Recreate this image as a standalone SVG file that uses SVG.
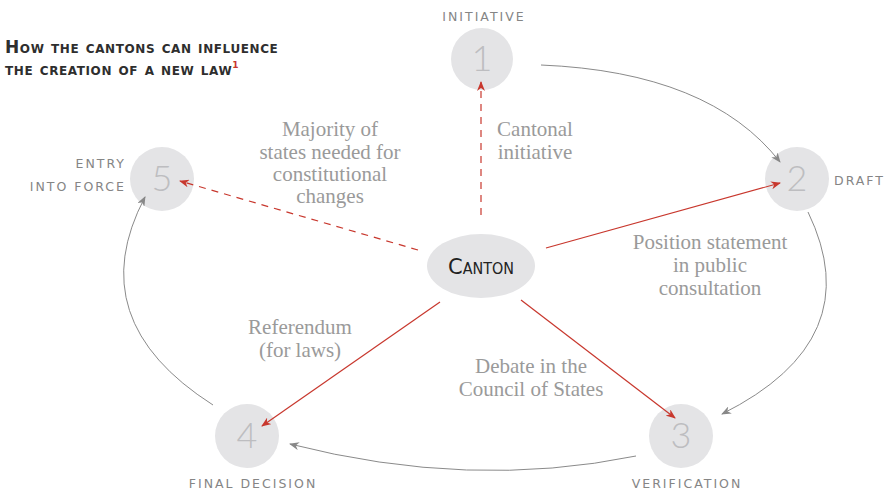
<svg xmlns="http://www.w3.org/2000/svg" width="884" height="490" viewBox="0 0 884 490">
<defs>
<marker id="ag" viewBox="0 0 10 8" refX="9" refY="4" markerWidth="10" markerHeight="8" markerUnits="userSpaceOnUse" orient="auto">
<path d="M0,0 L10,4 L0,8 L3,4 z" fill="#888"/>
</marker>
<marker id="ar" viewBox="0 0 10 8" refX="9" refY="4" markerWidth="10" markerHeight="8" markerUnits="userSpaceOnUse" orient="auto">
<path d="M0,0 L10,4 L0,8 L3,4 z" fill="#c8372d"/>
</marker>
</defs>
<style>
.node{fill:#e4e4e6}
.num{font-family:"Lato","DejaVu Sans",sans-serif;font-weight:300;font-size:36px;fill:#bdbdc0;text-anchor:middle}
.lbl{font-family:"DejaVu Sans","Liberation Sans",sans-serif;font-size:12.5px;letter-spacing:2px;fill:#858585}
.ser{font-family:"Liberation Serif","Times New Roman",serif;font-size:21px;fill:#9a9a9a;text-anchor:middle}
.gray{fill:none;stroke:#8a8a8a;stroke-width:1}
.red{fill:none;stroke:#c8372d;stroke-width:1.2}
.dash{stroke-dasharray:7,6}
.title{font-family:"DejaVu Sans","Liberation Sans",sans-serif;font-size:17px;font-weight:bold;font-variant:small-caps;fill:#2e2e2e;letter-spacing:0.6px}
</style>
<rect width="884" height="490" fill="#ffffff"/>
<g id="title">
<text class="title" x="5" y="53">How the cantons can influence</text>
<text class="title" x="5" y="75">the creation of a new law<tspan font-size="9" fill="#c8372d" dy="-7" letter-spacing="0">1</tspan></text>
</g>
<g id="node1">
<circle class="node" cx="482" cy="59" r="31"/>
<text class="num" x="482" y="71">1</text>
<text class="lbl" x="484" y="21" text-anchor="middle">INITIATIVE</text>
</g>
<g id="node2">
<circle class="node" cx="797" cy="179" r="32"/>
<text class="num" x="797" y="191">2</text>
<text class="lbl" x="834" y="185" font-size="12" letter-spacing="1.2">DRAFT</text>
</g>
<g id="node3">
<circle class="node" cx="681" cy="436" r="32"/>
<text class="num" x="681" y="448">3</text>
<text class="lbl" x="687" y="488" text-anchor="middle">VERIFICATION</text>
</g>
<g id="node4">
<circle class="node" cx="247" cy="436" r="32"/>
<text class="num" x="247" y="448">4</text>
<text class="lbl" x="253" y="488" text-anchor="middle">FINAL DECISION</text>
</g>
<g id="node5">
<circle class="node" cx="162" cy="179" r="32"/>
<text class="num" x="162" y="191">5</text>
<text class="lbl" x="126" y="168" text-anchor="end">ENTRY</text>
<text class="lbl" x="126" y="191" text-anchor="end">INTO FORCE</text>
</g>
<g id="canton">
<ellipse class="node" cx="481" cy="266" rx="54" ry="32"/>
<text x="448" y="274" font-family="DejaVu Sans, Liberation Sans, sans-serif" font-size="22" font-variant="small-caps" fill="#222" textLength="66" lengthAdjust="spacingAndGlyphs">Canton</text>
</g>
<g id="connectors">
<path class="gray" d="M541,65 Q710,72 780,162" marker-end="url(#ag)"/>
<path class="gray" d="M808,212 Q870,340 722,414" marker-end="url(#ag)"/>
<path class="gray" d="M636,456 Q470,490 290,444" marker-end="url(#ag)"/>
<path class="gray" d="M213,405 Q80,320 145,197" marker-end="url(#ag)"/>
<path class="red dash" d="M481,215 L481,82" marker-end="url(#ar)"/>
<path class="red dash" d="M418,250 L180,181" marker-end="url(#ar)"/>
<path class="red" d="M546,248 L780,183" marker-end="url(#ar)"/>
<path class="red" d="M440,302 L262,426" marker-end="url(#ar)"/>
<path class="red" d="M521,300 L675,418" marker-end="url(#ar)"/>
</g>
<g id="labels">
<text class="ser" x="330" y="136">Majority of</text>
<text class="ser" x="330" y="159">states needed for</text>
<text class="ser" x="330" y="181">constitutional</text>
<text class="ser" x="330" y="203">changes</text>
<text class="ser" x="535" y="136">Cantonal</text>
<text class="ser" x="535" y="159">initiative</text>
<text class="ser" x="710" y="249">Position statement</text>
<text class="ser" x="710" y="272">in public</text>
<text class="ser" x="710" y="295">consultation</text>
<text class="ser" x="300" y="334">Referendum</text>
<text class="ser" x="300" y="357">(for laws)</text>
<text class="ser" x="531" y="373">Debate in the</text>
<text class="ser" x="531" y="396">Council of States</text>
</g>
</svg>
